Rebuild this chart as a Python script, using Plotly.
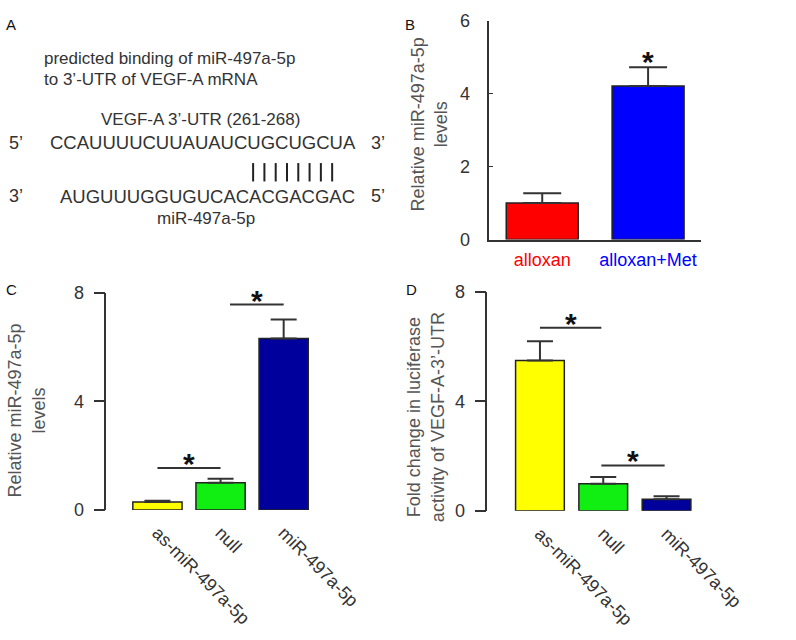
import plotly.graph_objects as go

# ---------------- data ----------------
b_categories = ["alloxan", "alloxan+Met"]
b_values = [1.0, 4.21]
b_errors = [0.27, 0.51]
b_colors = ["#FF0000", "#0000FF"]
b_ticks = [0, 2, 4, 6]

c_categories = ["as-miR-497a-5p", "null", "miR-497a-5p"]
c_values = [0.29, 1.0, 6.32]
c_errors = [0.05, 0.15, 0.70]

d_categories = ["as-miR-497a-5p", "null", "miR-497a-5p"]
d_values = [5.49, 0.99, 0.42]
d_errors = [0.71, 0.25, 0.11]

cd_colors = ["#FFFF00", "#11EE11", "#00009C"]
cd_ticks = [0, 4, 8]

# significance bars: (from index, to index, height)
c_sig = [(0.0, 1.0, 1.54), (1.15, 2.0, 7.57)]
d_sig = [(0.0, 0.97, 6.69), (0.97, 1.97, 1.66)]
b_star = [(1, 5.05)]

W, H = 796, 640
FONT = "Liberation Sans, Arial, sans-serif"
TXT = "#333333"
AX = "#333333"


def px(x):
    return x / W


def py(y):
    return 1 - y / H


fig = go.Figure()

# ---------------- panel B ----------------
fig.add_trace(go.Bar(
    x=b_categories, y=b_values, width=0.68,
    marker=dict(color=b_colors, line=dict(color="#222222", width=1.5)),
    error_y=dict(type="data", symmetric=False, array=b_errors,
                 arrayminus=[0] * len(b_values), color=AX, thickness=2, width=19),
    xaxis="x", yaxis="y", showlegend=False,
))

# ---------------- panel C ----------------
fig.add_trace(go.Bar(
    x=c_categories, y=c_values, width=0.78,
    marker=dict(color=cd_colors, line=dict(color="#222222", width=1.5)),
    error_y=dict(type="data", symmetric=False, array=c_errors,
                 arrayminus=[0] * len(c_values), color=AX, thickness=2, width=13),
    xaxis="x2", yaxis="y2", showlegend=False,
))

# ---------------- panel D ----------------
fig.add_trace(go.Bar(
    x=d_categories, y=d_values, width=0.77,
    marker=dict(color=cd_colors, line=dict(color="#222222", width=1.5)),
    error_y=dict(type="data", symmetric=False, array=d_errors,
                 arrayminus=[0] * len(d_values), color=AX, thickness=2, width=13),
    xaxis="x3", yaxis="y3", showlegend=False,
))

b_ticktext = [f"<span style='color:{c}'>{t}</span>" for t, c in zip(b_categories, b_colors)]

common_font = dict(family=FONT, size=18, color=TXT)

fig.update_layout(
    width=W, height=H, autosize=False,
    margin=dict(l=0, r=0, t=0, b=0, pad=0),
    paper_bgcolor="white", plot_bgcolor="white",
    font=common_font,
    bargap=0.3,
    xaxis=dict(domain=[px(520), px(745)], anchor="y", type="category",
               range=[-0.5, 1.5], showline=True, linecolor=AX, linewidth=1.5,
               ticks="", tickvals=b_categories, ticktext=b_ticktext,
               tickfont=common_font, showgrid=False, zeroline=False,
               ticklabelstandoff=3),
    yaxis=dict(domain=[py(237), py(11)], anchor="x", range=[0, 6],
               tickvals=b_ticks, ticks="inside", ticklen=4, tickcolor=AX,
               showline=True, linecolor=AX, linewidth=1.5, showgrid=False,
               zeroline=False, tickfont=common_font, ticklabelstandoff=14),
    xaxis2=dict(domain=[px(113), px(335)], anchor="y2", type="category",
                range=[-0.81, 2.5], showline=False, ticks="", tickangle=45,
                tickfont=common_font, showgrid=False, zeroline=False,
                ticklabelstandoff=8),
    yaxis2=dict(domain=[py(516), py(292)], anchor="x2", range=[0, 8],
                tickvals=cd_ticks, ticks="outside", ticklen=11, tickcolor=AX,
                tickwidth=1.5, showline=True, linecolor=AX, linewidth=1.5,
                showgrid=False, zeroline=False, tickfont=common_font,
                ticklabelstandoff=6),
    xaxis3=dict(domain=[px(518), px(742)], anchor="y3", type="category",
                range=[-0.83, 2.5], showline=False, ticks="", tickangle=45,
                tickfont=common_font, showgrid=False, zeroline=False,
                ticklabelstandoff=8),
    yaxis3=dict(domain=[py(517), py(291)], anchor="x3", range=[0, 8],
                tickvals=cd_ticks, ticks="outside", ticklen=11, tickcolor=AX,
                tickwidth=1.5, showline=True, linecolor=AX, linewidth=1.5,
                showgrid=False, zeroline=False, tickfont=common_font,
                ticklabelstandoff=6),
)

annotations = []
shapes = []

# significance lines and stars
for xr, yr, sig in (("x2", "y2", c_sig), ("x3", "y3", d_sig)):
    for x0, x1, h in sig:
        shapes.append(dict(type="line", xref=xr, yref=yr, x0=x0, x1=x1, y0=h, y1=h,
                           line=dict(color=AX, width=2)))
        annotations.append(dict(xref=xr, yref=yr, x=(x0 + x1) / 2, y=h, text="<b>*</b>",
                                showarrow=False, yanchor="bottom", yshift=-14,
                                font=dict(family=FONT, size=30, color="#111111")))
for xi, h in b_star:
    annotations.append(dict(xref="x", yref="y", x=b_categories[xi], y=h, text="<b>*</b>",
                            showarrow=False, yanchor="middle", yshift=-6,
                            font=dict(family=FONT, size=30, color="#111111")))

# y-axis titles
def ytitle(text, x, y):
    annotations.append(dict(xref="paper", yref="paper", x=px(x), y=py(y), text=text,
                            textangle=-90, showarrow=False, xanchor="center",
                            yanchor="middle",
                            font=dict(family=FONT, size=18, color="#555555")))

ytitle("Relative miR-497a-5p<br>levels", 456, 118)
ytitle("Relative miR-497a-5p<br>levels", 28, 413)
ytitle("Fold change in luciferase<br>activity of VEGF-A-3’-UTR", 453, 420)

# panel letters
for letter, x, y in (("A", 12, 15), ("B", 436, 15), ("C", 12, 288), ("D", 437, 288)):
    annotations.append(dict(xref="paper", yref="paper", x=px(x), y=py(y), text=letter,
                            showarrow=False, xanchor="center", yanchor="middle",
                            font=dict(family=FONT, size=15, color="#111111")))

# panel A diagram text
def atext(text, x, y, anchor="left", size=17):
    annotations.append(dict(xref="paper", yref="paper", x=px(x), y=py(y), text=text,
                            showarrow=False, xanchor=anchor, yanchor="middle",
                            font=dict(family=FONT, size=size, color=TXT)))

atext("predicted binding of miR-497a-5p", 45, 50)
atext("to 3’-UTR of VEGF-A mRNA", 45, 72)
atext("VEGF-A 3’-UTR (261-268)", 213, 113, "center")
atext("5’", 7, 137, size=18)
atext("CCAUUUUCUUAUAUCUGCUGCUA", 215.5, 137, "center", size=18.5)
atext("3’", 392, 137, size=18)
atext("3’", 7, 192, size=18)
atext("AUGUUUGGUGUCACACGACGAC", 221, 192, "center", size=18.5)
atext("5’", 392, 192, size=18)
atext("miR-497a-5p", 219, 215, "center")

# base-pairing ticks
for i in range(8):
    xx = 269 + i * 12
    shapes.append(dict(type="line", xref="paper", yref="paper", x0=px(xx), x1=px(xx),
                       y0=py(158), y1=py(177), line=dict(color="#222222", width=2)))

fig.update_layout(annotations=annotations, shapes=shapes)
fig.write_html(
    "out.html",
    config={"responsive": False, "displayModeBar": False},
    post_script="document.body.style.margin='0';document.body.style.overflow='hidden';",
)
